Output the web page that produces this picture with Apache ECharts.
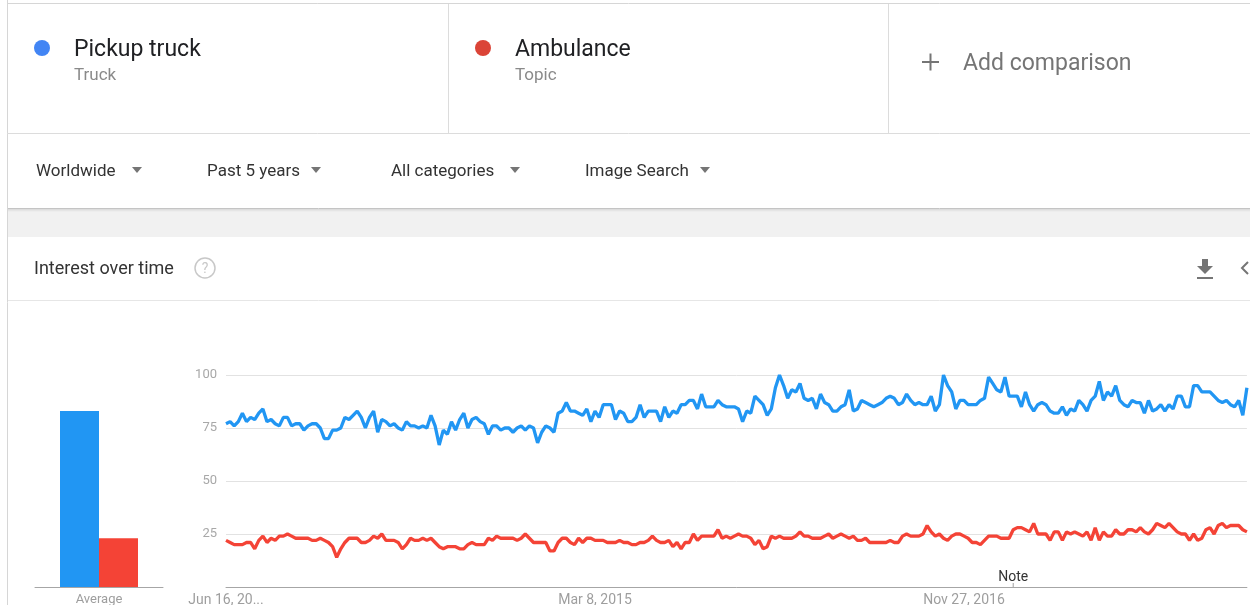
<!DOCTYPE html>
<html><head><meta charset="utf-8">
<script src="https://cdn.jsdelivr.net/npm/echarts/dist/echarts.min.js"></script>
<style>html,body{margin:0;padding:0;background:#fff}#c{width:1250px;height:605px}</style>
</head><body><div id="c"></div>
<script>
// ---------- data ----------
const seriesNames = ['Pickup truck', 'Ambulance'];
const seriesKinds = ['Truck', 'Topic'];
const filterLabels = ['Worldwide', 'Past 5 years', 'All categories', 'Image Search'];
const averageCategory = ['Average'];
const averagePickup = [83];
const averageAmbulance = [23];
const startDate = '2013-06-16';          // weekly points
const tickIndices = [0, 90, 180];
const tickLabels = ['Jun 16, 20...', 'Mar 8, 2015', 'Nov 27, 2016'];
const noteIndex = 192;
const noteText = 'Note';
const yTickValues = [25, 50, 75, 100];

const pickupTruck = [
77,78,76,78,82,78,80,79,82,84, 78,79,77,76,80,80,76,77,77,74,
76,77,77,75,70,70,74,74,75,80, 79,81,83,80,75,80,83,73,79,78,
76,77,75,74,78,76,76,75,76,75, 81,76,67,74,72,78,74,79,82,75,
79,80,78,
77,72,76,76,74,75,75,73,75,76, 74,76,75,68,73,76,75,73,82,83,
87,83,83,82,81,84,78,83,80,86, 86,86,79,83,82,78,78,80,86,80,
83,83,83,78,85,80,83,82,86,86, 88,88,84,91,85,85,85,88,86,85,85,85,
84,78,83,82,90,88,86,81,84,94, 100,95,89,93,92,96,89,88,89,84,
91,87,86,83,83,85,86,93,83,84, 88,87,86,85,86,87,89,90,89,86,
87,91,88,86,87,86,86,90,83,86, 100,95,92,84,88,88,86,86,86,88,89,99,96,
93,92,99,90,90,90,85,92,86,83, 86,87,86,83,82,82,85,81,84,83,
88,86,83,88,90,97,88,92,90,95, 88,86,85,88,87,87,82,88,83,84,
86,83,86,84,90,90,85,85,95,95, 92,92,92,90,88,87,88,86,85,88,81,94
];
const ambulance = [
22,21,20,20,20,21,21,18,22,24, 21,23,22,24,24,25,24,23,23,23,
23,22,22,23,22,21,19,14,18,21, 23,23,23,21,21,22,24,23,25,22,
22,22,21,18,20,23,22,22,23,22, 23,21,19,18,19,19,19,18,18,20,
21,20,20,
20,23,22,24,23,23,23,23,22,23, 25,23,21,21,21,21,17,17,21,23,
23,21,20,23,21,23,23,22,22,22, 21,21,21,22,21,21,20,20,21,21,
22,24,22,21,21,22,19,21,18,21, 21,25,22,24,24,24,24,27,23,24,23,24,
25,24,24,23,20,22,18,19,24,23, 24,23,23,23,24,26,24,24,23,23,
23,24,25,23,24,25,24,23,24,22, 22,23,21,21,21,21,21,22,21,21,
24,25,24,24,24,25,29,26,24,25, 23,22,24,25,25,24,23,21,21,20,22,24,24,
24,23,23,23,27,28,28,27,26,30, 25,25,25,22,26,26,22,26,25,26,
25,24,26,22,28,22,26,24,24,27, 25,25,27,27,26,28,26,25,27,30,
29,28,30,28,26,25,25,22,25,22, 23,27,28,25,29,30,28,29,29,29,27,26
];

// weekly category dates
const categories = [];
{
  const d0 = new Date(startDate + 'T00:00:00Z');
  for (let i = 0; i < pickupTruck.length; i++) {
    const d = new Date(d0.getTime() + i * 7 * 86400000);
    categories.push(d.toISOString().slice(0, 10));
  }
}

// ---------- style ----------
const FONT = 'Roboto, "Noto Sans", Arial, sans-serif';
const BLUE_LINE = '#2196f3', RED_LINE = '#f44336';
const BLUE_DOT = '#4285f4', RED_DOT = '#db4437';
const GREY_TXT = '#9e9e9e';

const chart = echarts.init(document.getElementById('c'), null, {renderer: 'canvas'});

function txt(text, x, y, size, color, align) {
  return {
    type: 'text', silent: true,
    style: {text, x, y, fontSize: size, fontFamily: FONT, fill: color,
      align: align || 'left', verticalAlign: 'middle'}
  };
}
function hline(x1, x2, y, color, w) {
  return {type: 'line', silent: true, shape: {x1, y1: y, x2, y2: y}, style: {stroke: color, lineWidth: w || 1}};
}
function vline(x, y1, y2, color, w) {
  return {type: 'line', silent: true, shape: {x1: x, y1, x2: x, y2}, style: {stroke: color, lineWidth: w || 1}};
}
function tri(cx, cy) {
  return {type: 'polygon', silent: true, shape: {points: [[cx - 5, cy - 3], [cx + 5, cy - 3], [cx, cy + 3]]}, style: {fill: '#757575'}};
}

const filterX = [36, 207, 391, 585];
const triX = [137, 316, 515, 705];

const graphics = [
  // gray band + shadow
  {type: 'rect', silent: true, shape: {x: 8, y: 209, width: 1242, height: 28}, style: {fill: '#f1f1f1'}},
  {type: 'rect', silent: true, shape: {x: 8, y: 209, width: 1242, height: 3},
    style: {fill: new echarts.graphic.LinearGradient(0, 0, 0, 1, [{offset: 0, color: 'rgba(0,0,0,0.10)'}, {offset: 1, color: 'rgba(0,0,0,0)'}])}},
  hline(8, 1250, 208.5, '#c4c4c4'),
  // borders
  vline(7.5, 0, 605, '#d6d6d6'),
  hline(7, 1250, 3.5, '#d6d6d6'),
  hline(7, 1250, 133.5, '#dcdcdc'),
  vline(448.5, 4, 133, '#dcdcdc'),
  vline(888.5, 4, 133, '#dcdcdc'),
  hline(8, 1250, 300.5, '#e6e6e6'),
  // terms
  {type: 'circle', silent: true, shape: {cx: 42, cy: 48, r: 8}, style: {fill: BLUE_DOT}},
  txt(seriesNames[0], 74, 50, 23, '#202124'),
  txt(seriesKinds[0], 74, 76, 17, '#8a8a8a'),
  {type: 'circle', silent: true, shape: {cx: 483, cy: 48, r: 8}, style: {fill: RED_DOT}},
  txt(seriesNames[1], 515, 50, 23, '#202124'),
  txt(seriesKinds[1], 515, 76, 17, '#8a8a8a'),
  hline(922, 939, 62, '#757575', 2),
  vline(930.5, 53.5, 70.5, '#757575', 2),
  txt('Add comparison', 963, 64, 23, '#757575'),
  // filters
  ...filterLabels.map((t, i) => txt(t, filterX[i], 172, 17, '#333333')),
  ...triX.map(x => tri(x, 170)),
  // card header
  txt('Interest over time', 34, 269, 18, '#333333'),
  {type: 'circle', silent: true, shape: {cx: 205, cy: 268, r: 10}, style: {fill: 'none', stroke: '#c8c8c8', lineWidth: 1.5}},
  txt('?', 205, 269, 14, '#c8c8c8', 'center'),
  // download icon
  {type: 'polygon', silent: true, shape: {points: [[1202, 259], [1208, 259], [1208, 266], [1213, 266], [1205, 274], [1197, 266], [1202, 266]]}, style: {fill: '#757575'}},
  {type: 'rect', silent: true, shape: {x: 1197, y: 277, width: 16, height: 2}, style: {fill: '#757575'}},
  {type: 'polyline', silent: true, shape: {points: [[1248, 262], [1242, 268], [1248, 274]]}, style: {stroke: '#757575', lineWidth: 2, fill: 'none'}}
];

const lineGridLeft = 226;
const stepPx = 4.1;
const lineGridWidth = (pickupTruck.length - 1) * stepPx;

const option = {
  animation: false,
  backgroundColor: '#ffffff',
  textStyle: {fontFamily: FONT},
  graphic: graphics,
  grid: [
    {left: 35, width: 128, top: 375, height: 212, containLabel: false, outerBoundsMode: 'none'},
    {left: lineGridLeft, width: lineGridWidth, top: 375, height: 212, containLabel: false, outerBoundsMode: 'none'}
  ],
  xAxis: [
    {gridIndex: 0, type: 'category', data: averageCategory,
      axisLine: {lineStyle: {color: '#a6a6a6'}}, axisTick: {show: false},
      axisLabel: {color: GREY_TXT, fontSize: 13, margin: 6, fontFamily: FONT}},
    {gridIndex: 1, type: 'category', data: categories, boundaryGap: false,
      axisLine: {lineStyle: {color: '#a6a6a6'}}, axisTick: {show: false},
      axisLabel: {color: GREY_TXT, fontSize: 14, margin: 6, fontFamily: FONT,
        interval: (idx) => tickIndices.includes(idx),
        formatter: (v, idx) => { const k = tickIndices.indexOf(idx); return k >= 0 ? tickLabels[k] : ''; }},
      splitLine: {show: false}}
  ],
  yAxis: [
    {gridIndex: 0, type: 'value', min: 0, max: 100, interval: 25, show: false},
    {gridIndex: 1, type: 'value', min: 0, max: 100, interval: 25,
      axisLine: {show: false}, axisTick: {show: false},
      axisLabel: {color: '#a8a8a8', fontSize: 13, margin: 9, fontFamily: FONT, padding: [3, 0, 0, 0],
        formatter: v => yTickValues.includes(v) ? String(v) : ''},
      splitLine: {lineStyle: {color: '#e2e2e2', width: 1}}}
  ],
  series: [
    {name: seriesNames[0] + ' avg', type: 'bar', xAxisIndex: 0, yAxisIndex: 0, data: averagePickup,
      barWidth: 39, barGap: '0%', itemStyle: {color: BLUE_LINE}, silent: true},
    {name: seriesNames[1] + ' avg', type: 'bar', xAxisIndex: 0, yAxisIndex: 0, data: averageAmbulance,
      barWidth: 39, barGap: '0%', itemStyle: {color: RED_LINE}, silent: true},
    {name: seriesNames[0], type: 'line', xAxisIndex: 1, yAxisIndex: 1, data: pickupTruck,
      showSymbol: false, symbol: 'none', lineStyle: {color: BLUE_LINE, width: 3.3}, itemStyle: {color: BLUE_LINE},
      silent: true,
      markPoint: {silent: true, symbol: 'rect', symbolSize: [1, 4], symbolOffset: [0, -2],
        itemStyle: {color: '#9e9e9e'},
        label: {show: true, position: 'top', distance: -1, formatter: noteText, color: '#333333', fontSize: 14, fontFamily: FONT},
        data: [{coord: [noteIndex, 0]}]}},
    {name: seriesNames[1], type: 'line', xAxisIndex: 1, yAxisIndex: 1, data: ambulance,
      showSymbol: false, symbol: 'none', lineStyle: {color: RED_LINE, width: 3.3}, itemStyle: {color: RED_LINE},
      silent: true}
  ]
};
chart.setOption(option);
</script>
</body></html>
